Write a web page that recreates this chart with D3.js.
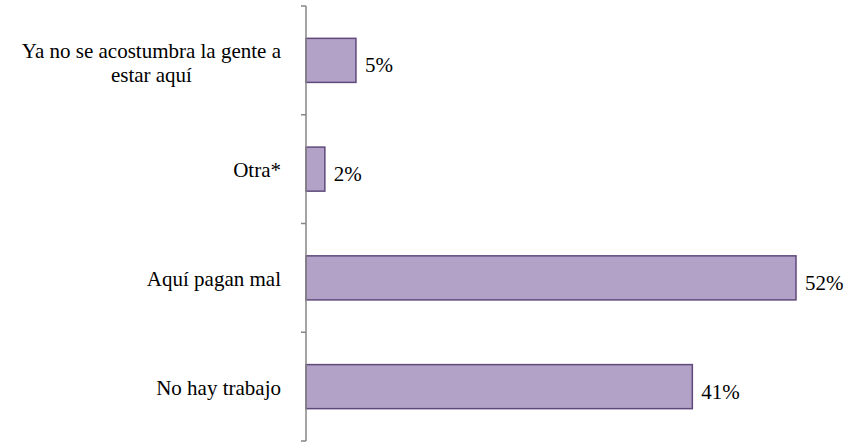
<!DOCTYPE html>
<html>
<head>
<meta charset="utf-8">
<script src="https://cdn.jsdelivr.net/npm/d3@7"></script>
</head>
<body style="margin:0">
<script>
// categories top to bottom, each as lines of text
var categories = [
  ["Ya no se acostumbra la gente a", "estar aquí"],
  ["Otra*"],
  ["Aquí pagan mal"],
  ["No hay trabajo"]
];
var values = [0.053, 0.02, 0.52, 0.41];
var valueLabels = ["5%", "2%", "52%", "41%"];

var width = 848, height = 442;
var font = "'Liberation Serif'";

var svg = d3.select("body").append("svg")
  .attr("width", width)
  .attr("height", height);

var y = d3.scaleBand()
  .domain(d3.range(categories.length))
  .range([6, 441])
  .paddingInner(0.595)
  .paddingOuter(0.2975);

var x = d3.scaleLinear()
  .domain([0, 0.52])
  .range([306, 796]);

// bars
svg.append("g").selectAll("rect")
  .data(values)
  .enter().append("rect")
    .attr("x", x(0))
    .attr("y", function(d, i) { return y(i); })
    .attr("width", function(d) { return x(d) - x(0); })
    .attr("height", y.bandwidth())
    .attr("fill", "#B3A2C7")
    .attr("stroke", "#5F497A")
    .attr("stroke-width", 1.5);

// axis line and ticks at band boundaries
var axis = svg.append("g").attr("stroke", "#868686").attr("stroke-width", 1.5);
axis.append("line")
  .attr("x1", x(0)).attr("x2", x(0))
  .attr("y1", y.range()[0]).attr("y2", y.range()[1]);
var bounds = d3.range(categories.length + 1).map(function(i) { return y.range()[0] + i * y.step(); });
axis.selectAll(".tick")
  .data(bounds)
  .enter().append("line")
    .attr("x1", x(0) - 5).attr("x2", x(0))
    .attr("y1", function(d) { return d; })
    .attr("y2", function(d) { return d; });

// value labels
svg.selectAll("text.val")
  .data(values)
  .enter().append("text")
    .attr("class", "val")
    .style("font-family", font)
    .attr("font-size", 21)
    .attr("x", function(d) { return x(d) + 9; })
    .attr("y", function(d, i) { return y(i) + y.bandwidth() / 2 + 12; })
    .text(function(d, i) { return valueLabels[i]; });

// category labels: one text per line, lines centred in a block ending near the axis
var labelRight = 281;
categories.forEach(function(lines, i) {
  var cy = y(i) + y.bandwidth() / 2;
  var top = cy + 8 - (lines.length - 1) * 10;
  var texts = lines.map(function(s, k) {
    return svg.append("text")
      .style("font-family", font)
      .attr("font-size", 21)
      .attr("text-anchor", "middle")
      .attr("y", top + k * 24)
      .text(s);
  });
  var w = d3.max(texts, function(t) { return t.node().getComputedTextLength(); });
  texts.forEach(function(t) { t.attr("x", labelRight - w / 2); });
});
</script>
</body>
</html>
